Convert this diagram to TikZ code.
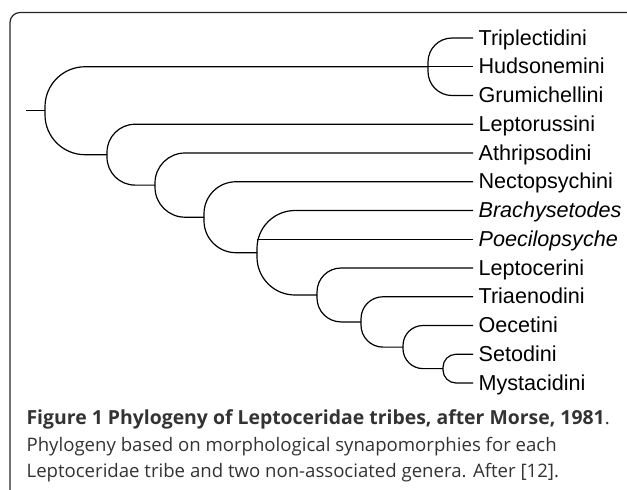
\documentclass[tikz,border=0pt]{standalone}
\usepackage{fontspec}
\newfontfamily\taxonfont{Liberation Sans}
\newfontfamily\capfont{Open Sans}

\begin{document}
\begin{tikzpicture}[x=0.5pt, y=-0.5pt, line width=0.6pt,
    taxon/.style={anchor=west, inner sep=2.5pt, text height=9pt, text depth=2pt, font=\taxonfont\fontsize{10.8}{13}\selectfont},
    clade/.style={rounded corners=#1},
    caption/.style={anchor=base west, inner sep=0pt, text=black!80, font=\capfont\fontsize{9.3}{13}\selectfont}]
    \useasboundingbox (0,0) rectangle (627,489);
    \begin{scope}
        \clip (0,0) rectangle (627,489);
        \draw[black!85, rounded corners=5pt] (10,12.5) rectangle (640,530);
    \end{scope}
    \node[taxon] (trip) at (473,38) {Triplectidini};
    \node[taxon] (hud) at (473,66.75) {Hudsonemini};
    \node[taxon] (grum) at (473,95.5) {Grumichellini};
    \node[taxon] (leptor) at (473,124.25) {Leptorussini};
    \node[taxon] (athr) at (473,153) {Athripsodini};
    \node[taxon] (nect) at (473,181.75) {Nectopsychini};
    \node[taxon] (brach) at (473,210.5) {\itshape Brachysetodes};
    \node[taxon] (poec) at (473,239.25) {\itshape Poecilopsyche};
    \node[taxon] (leptoc) at (473,268) {Leptocerini};
    \node[taxon] (triaen) at (473,296.75) {Triaenodini};
    \node[taxon] (oecet) at (473,325.5) {Oecetini};
    \node[taxon] (setod) at (473,354.25) {Setodini};
    \node[taxon] (mystac) at (473,383) {Mystacidini};
    \coordinate (stub) at (26,110.7);
    \coordinate (root) at (45,110.7);
    \coordinate (nA) at (428,66.75);
    \coordinate (nB) at (107,154.7);
    \coordinate (nC) at (155,185.1);
    \coordinate (nD) at (204,217.2);
    \coordinate (nE) at (257,252.7);
    \coordinate (nF) at (317,295);
    \coordinate (nG) at (361,321.9);
    \coordinate (nH) at (403,347.1);
    \coordinate (nI) at (443,368.6);
    \draw (stub) -- (root);
    \draw[clade=20pt] (nA) -| (root) (root) |- (nB);
    \draw[clade=12pt] (trip.west) -| (nA) (nA) |- (grum.west);
    \draw (nA) -- (hud.west);
    \draw[clade=14pt] (leptor.west) -| (nB) (nB) |- (nC);
    \draw[clade=15pt] (athr.west) -| (nC) (nC) |- (nD);
    \draw[clade=16pt] (nect.west) -| (nD) (nD) |- (nE);
    \draw[clade=19pt] (brach.west) -| (nE) (nE) |- (nF);
    \draw (nE |- poec.west) -- (poec.west);
    \draw[clade=12pt] (leptoc.west) -| (nF) (nF) |- (nG);
    \draw[clade=11pt] (triaen.west) -| (nG) (nG) |- (nH);
    \draw[clade=10pt] (oecet.west) -| (nH) (nH) |- (nI);
    \draw[clade=6.5pt] (setod.west) -| (nI) (nI) |- (mystac.west);
    \node[caption] (cap1) at (26,424) {{\bfseries\fontsize{9.7}{13}\selectfont Figure 1 Phylogeny of Leptoceridae tribes, after Morse, 1981}.};
    \node[caption] (cap2) at (26,451) {Phylogeny based on morphological synapomorphies for each};
    \node[caption] (cap3) at (26,477) {Leptoceridae tribe and two non-associated genera. After [12].};
\end{tikzpicture}
\end{document}
